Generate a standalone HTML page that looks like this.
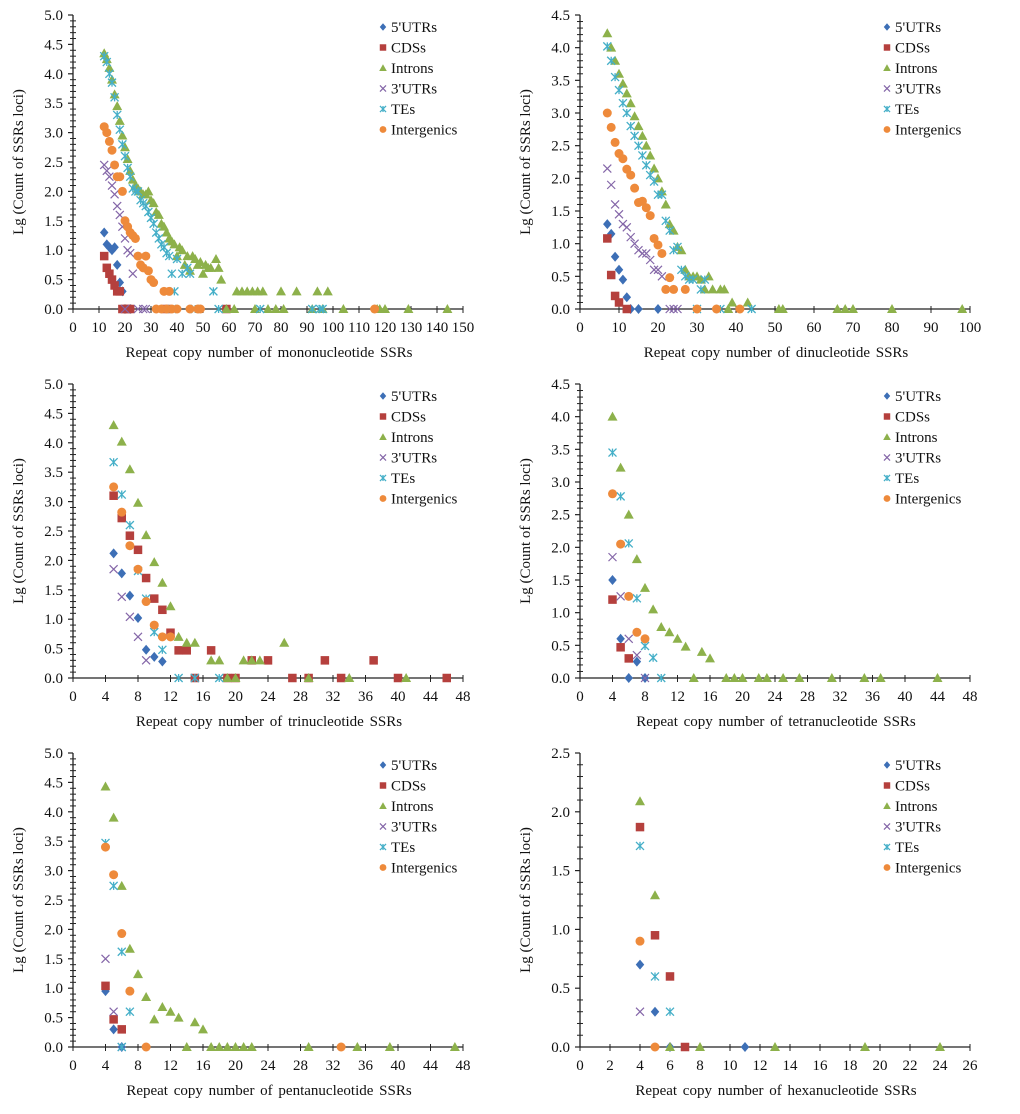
<!DOCTYPE html>
<html><head><meta charset="utf-8"><style>
html,body{margin:0;padding:0;background:#fff;}
svg{display:block;font-family:"Liberation Serif",serif;}
</style></head><body>
<svg id="chart" width="1020" height="1114" viewBox="0 0 1020 1114" xmlns="http://www.w3.org/2000/svg"></svg>
<script>
// ---------- Data: mononucleotide ----------
const monoUTR5 = [[12,1.3],[13,1.1],[14,1.05],[15,1.0],[16,1.05],[17,0.75],[18,0.45],[19,0.3],[20,0],[22,0]];
const monoCDS = [[12,0.9],[13,0.7],[14,0.6],[15,0.5],[16,0.4],[17,0.3],[18,0.3],[19,0],[20,0],[21,0],[22,0],[36,0],[59,0]];
const monoIntron = [[12,4.35],[13,4.25],[14,4.1],[15,3.9],[16,3.65],[17,3.45],[18,3.2],[19,2.95],[20,2.75],[21,2.55],[22,2.35],[23,2.2],[24,2.1],[25,2.05],[26,2.0],[27,1.95],[28,1.95],[29,2.0],[30,1.85],[31,1.8],[32,1.65],[33,1.6],[34,1.45],[35,1.4],[36,1.3],[37,1.2],[38,1.15],[39,1.1],[40,0.9],[41,1.05],[42,1.0],[43,0.75],[44,0.9],[45,0.65],[46,0.9],[47,0.85],[48,0.75],[49,0.8],[50,0.6],[51,0.75],[52,0.7],[53,0.7],[55,0.85],[56,0.7],[57,0.5],[59,0],[62,0],[63,0.3],[65,0.3],[67,0.3],[69,0.3],[71,0.3],[73,0.3],[80,0.3],[86,0.3],[94,0.3],[98,0.3],[70,0],[75,0],[78,0],[81,0],[92,0],[96,0],[104,0],[117,0],[118,0],[120,0],[129,0],[144,0]];
const monoUTR3 = [[12,2.45],[13,2.35],[14,2.25],[15,2.1],[16,1.95],[17,1.75],[18,1.6],[19,1.4],[20,1.2],[21,1.0],[22,0.95],[23,0.6],[20,0],[25,0],[27,0],[28,0]];
const monoTE = [[12,4.3],[13,4.2],[14,4.0],[15,3.85],[16,3.6],[17,3.3],[18,3.05],[19,2.8],[20,2.6],[21,2.4],[22,2.25],[23,2.05],[24,2.0],[25,2.0],[26,1.85],[27,1.8],[28,1.75],[29,1.65],[30,1.55],[31,1.45],[32,1.3],[33,1.2],[34,1.1],[35,1.05],[36,0.95],[37,0.9],[38,0.6],[39,0.3],[40,0.85],[42,0.6],[44,0.7],[45,0.6],[38,0],[47,0],[54,0.3],[56,0],[72,0],[92,0],[95,0],[96,0]];
const monoInter = [[12,3.1],[13,3.0],[14,2.85],[15,2.7],[16,2.45],[17,2.25],[18,2.25],[19,2.0],[20,1.5],[21,1.4],[22,1.3],[23,1.25],[24,1.2],[25,0.9],[26,0.75],[27,0.7],[28,0.9],[29,0.65],[30,0.5],[31,0.45],[32,0],[34,0],[35,0.3],[37,0.3],[36,0],[38,0],[40,0],[45,0],[48,0],[49,0],[116,0]];
// ---------- Data: dinucleotide ----------
const diUTR5 = [[7,1.3],[8,1.15],[9,0.8],[10,0.6],[11,0.45],[12,0.18],[13,0],[15,0],[20,0]];
const diCDS = [[7,1.08],[8,0.52],[9,0.2],[10,0.1],[12,0]];
const diIntron = [[7,4.22],[8,4.0],[9,3.8],[10,3.6],[11,3.45],[12,3.3],[13,3.15],[14,2.95],[15,2.8],[16,2.65],[17,2.5],[18,2.35],[19,2.15],[20,2.0],[21,1.8],[22,1.6],[23,1.3],[24,1.2],[25,0.95],[26,0.9],[27,0.6],[28,0.5],[29,0.5],[30,0.5],[31,0.45],[32,0.3],[33,0.5],[34,0.3],[36,0.3],[37,0.3],[39,0.1],[43,0.1],[38,0],[51,0],[52,0],[66,0],[68,0],[70,0],[80,0],[98,0]];
const diUTR3 = [[7,2.15],[8,1.9],[9,1.6],[10,1.45],[11,1.3],[12,1.25],[13,1.1],[14,1.0],[15,0.9],[16,0.85],[17,0.85],[18,0.75],[19,0.6],[20,0.6],[21,0.5],[23,0],[24,0],[25,0]];
const diTE = [[7,4.02],[8,3.8],[9,3.55],[10,3.35],[11,3.15],[12,3.0],[13,2.8],[14,2.65],[15,2.5],[16,2.35],[17,2.2],[18,2.05],[19,1.95],[20,1.75],[21,1.75],[22,1.35],[23,1.2],[24,0.9],[25,0.95],[26,0.6],[27,0.5],[28,0.45],[29,0.45],[31,0.3],[32,0.45],[30,0],[36,0],[44,0]];
const diInter = [[7,3.0],[8,2.78],[9,2.55],[10,2.38],[11,2.3],[12,2.14],[13,2.05],[14,1.85],[15,1.63],[16,1.65],[17,1.55],[18,1.43],[19,1.08],[20,0.98],[21,0.85],[22,0.3],[23,0.48],[24,0.3],[27,0.3],[30,0],[35,0],[41,0]];
// ---------- Data: trinucleotide ----------
const triUTR5 = [[5,2.12],[6,1.78],[7,1.4],[8,1.02],[9,0.48],[10,0.36],[11,0.28]];
const triCDS = [[5,3.1],[6,2.72],[7,2.42],[8,2.18],[9,1.7],[10,1.35],[11,1.16],[12,0.77],[13,0.47],[14,0.47],[15,0],[17,0.47],[19,0],[20,0],[22,0.3],[24,0.3],[27,0],[29,0],[31,0.3],[33,0],[37,0.3],[40,0],[46,0]];
const triIntron = [[5,4.3],[6,4.02],[7,3.55],[8,2.98],[9,2.43],[10,1.97],[11,1.62],[12,1.22],[13,0.7],[14,0.6],[15,0.6],[17,0.3],[18,0.3],[19,0],[20,0],[21,0.3],[22,0.3],[23,0.3],[26,0.6],[29,0],[34,0],[41,0]];
const triUTR3 = [[5,1.85],[6,1.38],[7,1.04],[8,0.7],[9,0.3]];
const triTE = [[5,3.67],[6,3.12],[7,2.6],[8,1.82],[9,1.35],[10,0.78],[11,0.48],[13,0],[15,0],[18,0]];
const triInter = [[5,3.25],[6,2.82],[7,2.25],[8,1.85],[9,1.3],[10,0.9],[11,0.7],[12,0.7]];
// ---------- Data: tetranucleotide ----------
const tetraUTR5 = [[4,1.5],[5,0.6],[6,0],[7,0.25],[8,0]];
const tetraCDS = [[4,1.2],[5,0.47],[6,0.3]];
const tetraIntron = [[4,4.0],[5,3.22],[6,2.5],[7,1.82],[8,1.38],[9,1.05],[10,0.78],[11,0.7],[12,0.6],[13,0.48],[15,0.4],[16,0.3],[14,0],[18,0],[19,0],[20,0],[22,0],[23,0],[25,0],[27,0],[31,0],[35,0],[37,0],[44,0]];
const tetraUTR3 = [[4,1.85],[5,1.25],[6,0.6],[7,0.35],[8,0]];
const tetraTE = [[4,3.45],[5,2.78],[6,2.06],[7,1.22],[8,0.49],[9,0.31],[10,0]];
const tetraInter = [[4,2.82],[5,2.05],[6,1.25],[7,0.7],[8,0.6]];
// ---------- Data: pentanucleotide ----------
const pentaUTR5 = [[4,0.95],[5,0.3],[6,0]];
const pentaCDS = [[4,1.04],[5,0.47],[6,0.3]];
const pentaIntron = [[4,4.43],[5,3.9],[6,2.74],[7,1.67],[8,1.24],[9,0.85],[10,0.47],[11,0.68],[12,0.6],[13,0.5],[14,0],[15,0.42],[16,0.3],[17,0],[18,0],[19,0],[20,0],[21,0],[22,0],[29,0],[35,0],[39,0],[47,0]];
const pentaUTR3 = [[4,1.5],[5,0.6],[6,0]];
const pentaTE = [[4,3.47],[5,2.74],[6,1.62],[7,0.6],[6,0]];
const pentaInter = [[4,3.4],[5,2.93],[6,1.93],[7,0.95],[9,0],[33,0]];
// ---------- Data: hexanucleotide ----------
const hexaUTR5 = [[4,0.7],[5,0.3],[6,0],[11,0]];
const hexaCDS = [[4,1.87],[5,0.95],[6,0.6],[7,0]];
const hexaIntron = [[4,2.09],[5,1.29],[6,0],[8,0],[13,0],[19,0],[24,0]];
const hexaUTR3 = [[4,0.3]];
const hexaTE = [[4,1.71],[5,0.6],[6,0.3]];
const hexaInter = [[4,0.9],[5,0]];

const seriesNames = ["5'UTRs","CDSs","Introns","3'UTRs","TEs","Intergenics"];
const seriesKeys = ["utr5","cds","intron","utr3","te","inter"];
const colors = {utr5:"#3D6FB6",cds:"#B5403D",intron:"#8DB14B",utr3:"#8466A8",te:"#45AFC8",inter:"#EE8A3B"};

const NS="http://www.w3.org/2000/svg";
const svg=document.getElementById('chart');
function mk(tag,attrs,parent){const e=document.createElementNS(NS,tag);for(const k in attrs)e.setAttribute(k,attrs[k]);(parent||svg).appendChild(e);return e;}

function marker(g,key,cx,cy,s){
  const c=colors[key];let e;
  if(key==='utr5'){e=mk('polygon',{points:`${cx},${cy-s} ${cx+s*0.85},${cy} ${cx},${cy+s} ${cx-s*0.85},${cy}`,fill:c},g);}
  else if(key==='cds'){e=mk('rect',{x:cx-s*0.85,y:cy-s*0.85,width:s*1.7,height:s*1.7,fill:c},g);}
  else if(key==='intron'){e=mk('polygon',{points:`${cx},${cy-s} ${cx+s},${cy+s*0.8} ${cx-s},${cy+s*0.8}`,fill:c},g);}
  else if(key==='utr3'){const d=s*0.8;e=mk('path',{d:`M${cx-d},${cy-d}L${cx+d},${cy+d}M${cx-d},${cy+d}L${cx+d},${cy-d}`,stroke:c,'stroke-width':1.2,fill:'none'},g);}
  else if(key==='te'){const d=s*0.8;e=mk('path',{d:`M${cx-d},${cy-d}L${cx+d},${cy+d}M${cx-d},${cy+d}L${cx+d},${cy-d}M${cx},${cy-d}L${cx},${cy+d}`,stroke:c,'stroke-width':1.3,fill:'none'},g);}
  else {e=mk('circle',{cx:cx,cy:cy,r:s*0.9,fill:c},g);}
  return e;
}

const panels=[
 {name:'mononucleotide',x0:73,x1:463,yTop:15,yBot:309,xMax:150,xStep:10,yMax:5.0,data:[monoUTR5,monoCDS,monoIntron,monoUTR3,monoTE,monoInter],legX:383,title:'Repeat copy number of mononucleotide SSRs'},
 {name:'dinucleotide',x0:580,x1:970,yTop:15,yBot:309,xMax:100,xStep:10,yMax:4.5,data:[diUTR5,diCDS,diIntron,diUTR3,diTE,diInter],legX:887,title:'Repeat copy number of dinucleotide SSRs'},
 {name:'trinucleotide',x0:73,x1:463,yTop:384,yBot:678,xMax:48,xStep:4,yMax:5.0,data:[triUTR5,triCDS,triIntron,triUTR3,triTE,triInter],legX:383,title:'Repeat copy number of trinucleotide SSRs'},
 {name:'tetranucleotide',x0:580,x1:970,yTop:384,yBot:678,xMax:48,xStep:4,yMax:4.5,data:[tetraUTR5,tetraCDS,tetraIntron,tetraUTR3,tetraTE,tetraInter],legX:887,title:'Repeat copy number of tetranucleotide SSRs'},
 {name:'pentanucleotide',x0:73,x1:463,yTop:753,yBot:1047,xMax:48,xStep:4,yMax:5.0,data:[pentaUTR5,pentaCDS,pentaIntron,pentaUTR3,pentaTE,pentaInter],legX:383,title:'Repeat copy number of pentanucleotide SSRs'},
 {name:'hexanucleotide',x0:580,x1:970,yTop:753,yBot:1047,xMax:26,xStep:2,yMax:2.5,data:[hexaUTR5,hexaCDS,hexaIntron,hexaUTR3,hexaTE,hexaInter],legX:887,title:'Repeat copy number of hexanucleotide SSRs'}
];

panels.forEach(p=>{
  const g=mk('g',{});
  
  
  const X=v=>p.x0+(v/p.xMax)*(p.x1-p.x0);
  const Y=v=>p.yBot-(v/p.yMax)*(p.yBot-p.yTop);
  const ya=mk('g',{},g);
  
  
  mk('line',{x1:p.x0,y1:p.yTop,x2:p.x0,y2:p.yBot,stroke:'#222','stroke-width':1.3},ya);
  const nMinor=Math.round(p.yMax/0.1);
  for(let i=0;i<=nMinor;i++){
    const y=Y(i*0.1);
    if(i%5===0){
      mk('line',{x1:p.x0-5,y1:y,x2:p.x0,y2:y,stroke:'#222','stroke-width':1.2},ya);
      const t=mk('text',{x:p.x0-10,y:y+5,'text-anchor':'end','font-size':15,fill:'#111'},ya);
      t.textContent=(i*0.1).toFixed(1);
    } else {
      mk('line',{x1:p.x0-3,y1:y,x2:p.x0+3,y2:y,stroke:'#222','stroke-width':1},ya);
    }
  }
  const yt=mk('text',{x:0,y:0,'text-anchor':'middle','font-size':15,fill:'#111',transform:`translate(${p.x0-50},${(p.yTop+p.yBot)/2}) rotate(-90)`},ya);
  
  
  yt.textContent='Lg (Count of SSRs loci)';
  const xa=mk('g',{},g);
  
  
  mk('line',{x1:p.x0,y1:p.yBot,x2:p.x1,y2:p.yBot,stroke:'#222','stroke-width':1.3},xa);
  for(let v=0;v<=p.xMax+1e-9;v+=p.xStep){
    const x=X(v);
    mk('line',{x1:x,y1:p.yBot-3,x2:x,y2:p.yBot+4,stroke:'#222','stroke-width':1},xa);
    const t=mk('text',{x:x,y:p.yBot+23,'text-anchor':'middle','font-size':15,fill:'#111'},xa);
    t.textContent=String(v);
  }
  const xt=mk('text',{x:(p.x0+p.x1)/2+1,y:p.yBot+48,'text-anchor':'middle','font-size':15,'word-spacing':'2px',fill:'#111'},xa);
  
  
  xt.textContent=p.title;
  p.data.forEach((arr,si)=>{
    const key=seriesKeys[si];
    const sg=mk('g',{},g);
    
    
    arr.forEach(d=>{
      const m=marker(sg,key,X(d[0]),Y(d[1]),5);
      
      
    });
  });
  const lg=mk('g',{},g);
  
  
  seriesKeys.forEach((key,i)=>{
    const ly=p.yTop+12+i*20.5;
    const eg=mk('g',{},lg);
    
    
    marker(eg,key,p.legX,ly,3.8);
    const t=mk('text',{x:p.legX+8,y:ly+5,'font-size':15,fill:'#111'},eg);
    t.textContent=seriesNames[i];
  });
});
</script>
</body></html>
